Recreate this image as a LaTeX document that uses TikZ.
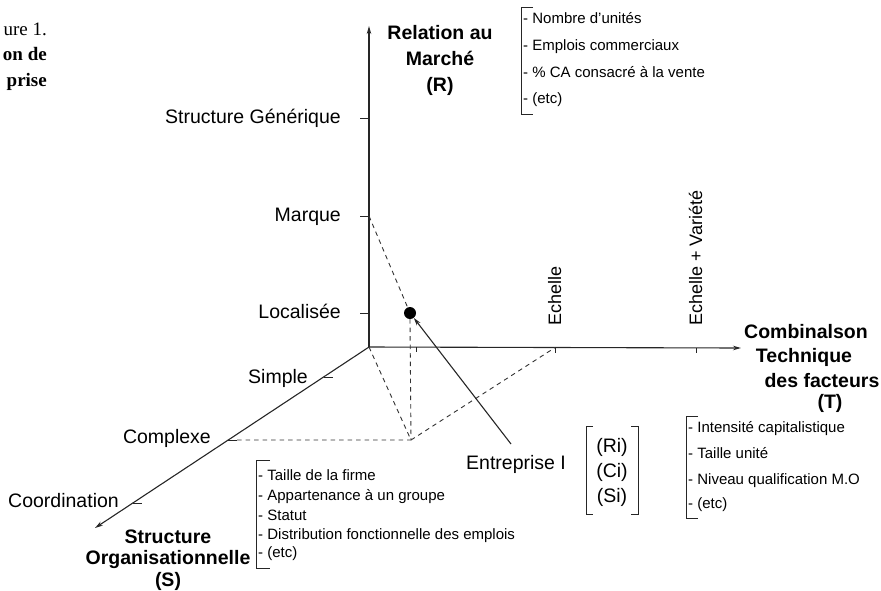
\documentclass[tikz,border=0pt]{standalone}
\usepackage{fontspec}
\setmainfont{Liberation Sans}
\newfontfamily\capfont{Liberation Serif}
\usetikzlibrary{arrows.meta,calc}
\begin{document}
\begin{tikzpicture}[x=1pt,y=-1pt,
  axis/.style={line width=1.1pt, draw=black!85, -{Stealth[length=8pt,width=4.5pt]}},
  tickmark/.style={line width=0.9pt, draw=black!85},
  guide/.style={line width=0.9pt, draw=black!80, dash pattern=on 4.5pt off 4pt},
  lbl/.style={font=\fontsize{19.5}{23}\selectfont, inner sep=0, text height=14pt, text depth=4pt},
  blbl/.style={font=\bfseries\fontsize{19.5}{23}\selectfont, inner sep=0, text height=14pt, text depth=4pt},
  item/.style={font=\fontsize{15}{18}\selectfont, inner sep=0, anchor=west, text height=11pt, text depth=3pt},
  brk/.style={line width=0.9pt, draw=black!85},
  captxt/.style={font=\capfont\fontsize{19}{22}\selectfont, inner sep=0, anchor=east, text height=14pt, text depth=4pt}]
\useasboundingbox (0,0) rectangle (881,590);

% caption fragments
\node[captxt] (cap1) at (47,30) {ure 1.};
\node[captxt, font=\capfont\bfseries\fontsize{19}{22}\selectfont] (cap2) at (47,55) {on de};
\node[captxt, font=\capfont\bfseries\fontsize{19}{22}\selectfont] (cap3) at (47,81) {prise};

% axes
\coordinate (O) at (369,347);
\coordinate (Rtip) at (369,26);
\coordinate (Ttip) at (741,348);
\coordinate (Stip) at (95,528);
\draw[axis] (O) -- (Rtip);
\draw[axis] (O) -- (Ttip);
\draw[axis] (O) -- (Stip);

% R ticks
\coordinate (rg) at (369,118);
\coordinate (rm) at (369,216);
\coordinate (rl) at (369,313);
\draw[tickmark] (rg) -- ++(-9,0);
\draw[tickmark] (rm) -- ++(-9,0);
\draw[tickmark] (rl) -- ++(-9,0);
\node[lbl, anchor=east] (lg) at (341,118) {Structure Générique};
\node[lbl, anchor=east] (lm) at (341,216) {Marque};
\node[lbl, anchor=east] (ll) at (341,313) {Localisée};

% T ticks
\coordinate (tp) at (416,347.2);
\coordinate (te) at (555,347.6);
\coordinate (tv) at (696,347.9);
\draw[tickmark] (tp) -- ++(0,5);
\draw[tickmark] (te) -- ++(0,5);
\draw[tickmark] (tv) -- ++(0,5);
\node[lbl, font=\fontsize{18}{21}\selectfont, rotate=90, anchor=west] (le) at (556,326) {Echelle};
\node[lbl, font=\fontsize{18}{21}\selectfont, rotate=90, anchor=west] (lv) at (697,326) {Echelle + Variété};

% S ticks
\coordinate (ss) at ($(O)!0.166!(Stip)$);
\coordinate (sc) at ($(O)!0.514!(Stip)$);
\coordinate (sd) at ($(O)!0.862!(Stip)$);
\draw[tickmark] (ss) -- ++(9,0);
\draw[tickmark] (sc) -- ++(9,0);
\draw[tickmark] (sd) -- ++(9,0);
\node[lbl, anchor=east] (ls) at (308,378) {Simple};
\node[lbl, anchor=east] (lc) at (211,438) {Complexe};
\node[lbl, anchor=east] (ld) at (119,502) {Coordination};

% enterprise point and projections
\node[circle, fill=black, inner sep=0, minimum size=12pt] (dot) at (410,313) {};
\coordinate (P) at (411,440);
\coordinate (E) at (511,444);
\draw[guide] (rm) -- (dot);
\draw[guide] (dot.south) -- (P);
\draw[guide] (O) -- (P);
\draw[guide] (P) -- (te);
\draw[guide] ($(sc)+(9,0)$) -- (P);
\draw[line width=1.1pt, draw=black!85, -{Stealth[length=8pt,width=4.5pt]}] (E) -- (dot);
\node[lbl, anchor=west] (ent) at (466,464) {Entreprise I};

% (Ri) (Ci) (Si) vector
\node[lbl] (ri) at (612,447) {(Ri)};
\node[lbl] (ci) at (612,472) {(Ci)};
\node[lbl] (si) at (612,497) {(Si)};
\draw[brk] (593,426) -- (586,426) -- (586,514) -- (593,514);
\draw[brk] (631,426) -- (638,426) -- (638,514) -- (631,514);

% axis titles
\node[blbl] (r1) at (440,34) {Relation au};
\node[blbl] (r2) at (440,60) {Marché};
\node[blbl] (r3) at (440,86) {(R)};

\node[blbl, anchor=west] (t1) at (744,333) {Combinalson};
\node[blbl] (t2) at (804,357) {Technique};
\node[blbl] (t3) at (822,382) {des facteurs};
\node[blbl] (t4) at (830,403) {(T)};

\node[blbl] (s1) at (168,538) {Structure};
\node[blbl] (s2) at (168,559) {Organisationnelle};
\node[blbl] (s3) at (168,581) {(S)};

% R list
\draw[brk] (533,7) -- (521,7) -- (521,114) -- (533,114);
\node[item] (ra) at (523,19) {- Nombre d'unités};
\node[item] (rb) at (523,46) {- Emplois commerciaux};
\node[item] (rc) at (523,73) {- \% CA consacré à la vente};
\node[item] (rd) at (523,99) {- (etc)};

% T list
\draw[brk] (698,416) -- (686,416) -- (686,518) -- (698,518);
\node[item] (ta) at (688,428) {- Intensité capitalistique};
\node[item] (tb) at (688,454) {- Taille unité};
\node[item] (tc) at (688,480) {- Niveau qualification M.O};
\node[item] (td) at (688,504) {- (etc)};

% S list
\draw[brk] (270,460) -- (256,460) -- (256,568) -- (270,568);
\node[item] (sa) at (258,476) {- Taille de la firme};
\node[item] (sb) at (258,496) {- Appartenance à un groupe};
\node[item] (sc2) at (258,516) {- Statut};
\node[item] (sd2) at (258,535) {- Distribution fonctionnelle des emplois};
\node[item] (se) at (258,553) {- (etc)};
\end{tikzpicture}
\end{document}
